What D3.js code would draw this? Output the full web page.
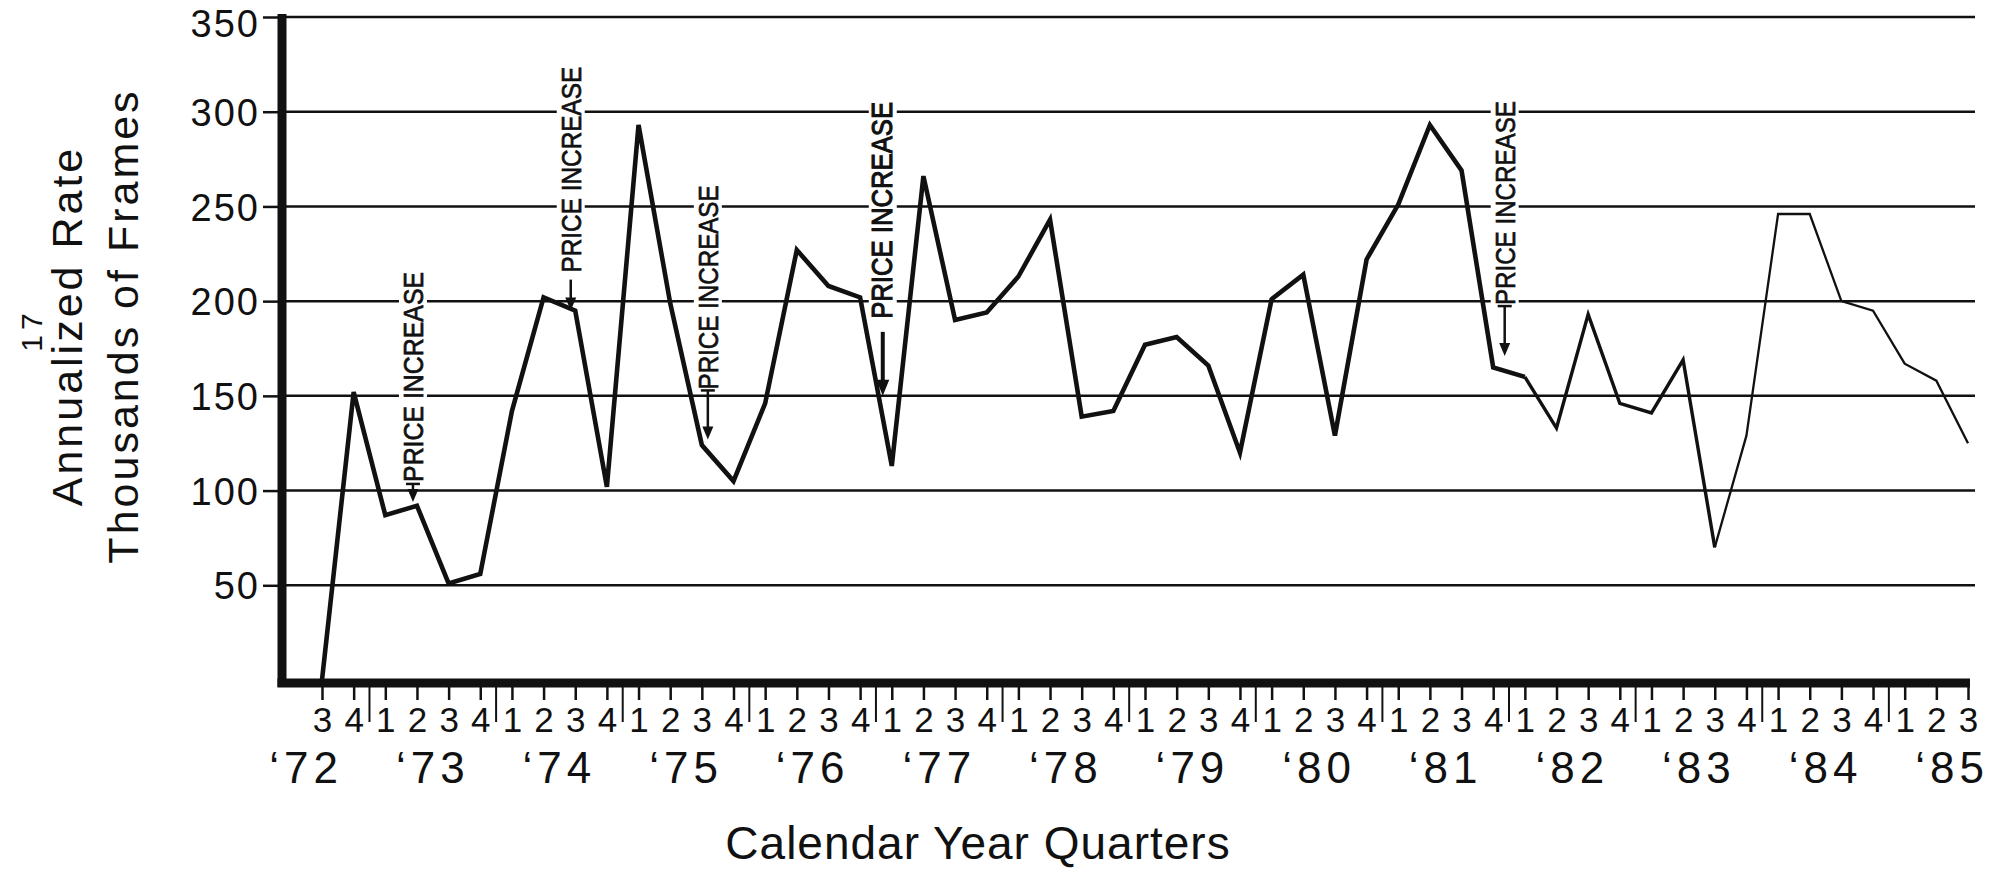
<!DOCTYPE html>
<html>
<head>
<meta charset="utf-8">
<script src="https://cdn.jsdelivr.net/npm/d3@7"></script>
<style>
  body { margin: 0; background: #fff; }
  svg text { font-family: "Liberation Sans", Arial, Helvetica, sans-serif; fill: #111; }
</style>
</head>
<body>
<svg id="chart" width="1996" height="872"></svg>
<script>
'use strict';

// Data
const periods = [
  '72-3', '72-4',
  '73-1', '73-2', '73-3', '73-4',
  '74-1', '74-2', '74-3', '74-4',
  '75-1', '75-2', '75-3', '75-4',
  '76-1', '76-2', '76-3', '76-4',
  '77-1', '77-2', '77-3', '77-4',
  '78-1', '78-2', '78-3', '78-4',
  '79-1', '79-2', '79-3', '79-4',
  '80-1', '80-2', '80-3', '80-4',
  '81-1', '81-2', '81-3', '81-4',
  '82-1', '82-2', '82-3', '82-4',
  '83-1', '83-2', '83-3', '83-4',
  '84-1', '84-2', '84-3', '84-4',
  '85-1', '85-2', '85-3'
];

const frames = [
  0, 152, 87, 92, 51, 56, 142, 202, 195, 102,
  293, 199, 124, 105, 146, 227, 208, 202, 113, 266,
  190, 194, 213, 243, 139, 142, 177, 181, 166, 120,
  201, 214, 129, 222, 251, 293, 269, 165, 160, 133,
  193, 146, 141, 169, 70, 129, 246, 246, 200, 195,
  167, 158, 125
];

const years = ['72', '73', '74', '75', '76', '77', '78', '79', '80', '81', '82', '83', '84', '85'];
const yTicks = [50, 100, 150, 200, 250, 300, 350];

const annotationAt = ['73-2', '74-3', '75-3', '77-1', '81-4'];
const annotationTip = [94, 195, 127, 150, 171];
const annotationText = ['PRICE INCREASE', 'PRICE INCREASE', 'PRICE INCREASE', 'PRICE INCREASE', 'PRICE INCREASE'];

// Layout
const svg = d3.select('#chart');
const axisX = 282;
const axisY = 683;
const gridRight = 1975;

// Scales
const x = d3.scalePoint()
            .domain(periods)
            .range([322, 1968]);
const step = x.step();

const y = d3.scaleLinear()
            .domain([0, 350])
            .range([680, 17]);

// Grid lines
svg.append('g')
   .selectAll('line')
   .data(yTicks)
   .enter().append('line')
           .attr('x1', axisX)
           .attr('x2', gridRight)
           .attr('y1', (d) => y(d))
           .attr('y2', (d) => y(d))
           .attr('stroke', '#111')
           .attr('stroke-width', 2.5);

// Y axis ticks and labels (top label sits a little low, as printed)
const yAxis = svg.append('g')
                 .attr('transform', 'translate(' + (axisX - 3) + ',0)')
                 .call(d3.axisLeft(y).tickValues(yTicks).tickSize(16).tickPadding(3));
yAxis.select('.domain').remove();
yAxis.selectAll('line').attr('stroke', '#111').attr('stroke-width', 2.5);
yAxis.selectAll('text')
     .attr('font-size', 38)
     .attr('letter-spacing', 2)
     .attr('dy', (d) => Math.max(13.7, 36 - y(d)))
     .attr('font-family', '"Liberation Sans", Arial, sans-serif');

// X axis quarter ticks and labels
const xAxis = svg.append('g')
                 .attr('transform', 'translate(0,' + (axisY + 4) + ')')
                 .call(d3.axisBottom(x)
                         .tickSizeInner(13)
                         .tickSizeOuter(0)
                         .tickPadding(7)
                         .tickFormat((d) => d.split('-')[1]));
xAxis.select('.domain').remove();
xAxis.selectAll('line').attr('stroke', '#111').attr('stroke-width', 2.5);
xAxis.selectAll('text')
     .attr('font-size', 35)
     .attr('font-family', '"Liberation Sans", Arial, sans-serif');

// Year separators (between Q4 and Q1)
svg.append('g')
   .selectAll('line')
   .data(years.slice(0, -1))
   .enter().append('line')
           .attr('x1', (d) => x(d + '-4') + step / 2)
           .attr('x2', (d) => x(d + '-4') + step / 2)
           .attr('y1', axisY + 4)
           .attr('y2', axisY + 39)
           .attr('stroke', '#111')
           .attr('stroke-width', 2);

// Year labels, centred on the middle of each year
svg.append('g')
   .selectAll('text')
   .data(years)
   .enter().append('text')
           .attr('x', (d) => x(d + '-3') - step / 2)
           .attr('y', 783)
           .attr('text-anchor', 'middle')
           .attr('font-size', 44)
           .attr('letter-spacing', 5)
           .text((d) => '\u2018' + d);

// Axis lines
svg.append('line')
   .attr('x1', axisX).attr('x2', axisX)
   .attr('y1', y(350) - 3).attr('y2', axisY + 4)
   .attr('stroke', '#111').attr('stroke-width', 9);
svg.append('line')
   .attr('x1', axisX - 4.5).attr('x2', x.range()[1] + 2)
   .attr('y1', axisY).attr('y2', axisY)
   .attr('stroke', '#111').attr('stroke-width', 9);

// Annotations: white knockout, rotated text, arrow
const annotationNudge = [-4, -4.5, 6, -9, 11.5];
const annotationShaft = [18, 31, 49, 64, 50];
const annotationGap = [2, 7, 1, 13, 1];
const annotationLength = [210, 206, 204, 217, 204];
const annotationBar = [true, false, true, false, true];
const annotationMono = [false, false, false, true, false];

const notes = svg.append('g');
annotationAt.forEach((p, i) => {
  const ax = x(p) + annotationNudge[i];
  const tip = y(annotationTip[i]);
  const shaftTop = tip - annotationShaft[i];
  const textBottom = shaftTop - annotationGap[i];
  const len = annotationLength[i];
  const mono = annotationMono[i];

  notes.append('rect')
       .attr('x', ax - 14)
       .attr('y', textBottom - len - 3)
       .attr('width', 28)
       .attr('height', len + 6)
       .attr('fill', '#fff');

  notes.append('text')
       .attr('transform', 'translate(' + (ax + (mono ? 9 : 10)) + ',' + textBottom + ') rotate(-90)')
       .attr('font-size', mono ? 30 : 27)
       .attr('font-family', mono ? '"Liberation Mono", "Courier New", monospace' : '"Liberation Sans", Arial, sans-serif')
       .attr('stroke', '#111')
       .attr('stroke-width', mono ? 1.1 : 0.7)
       .attr('textLength', len)
       .attr('lengthAdjust', 'spacingAndGlyphs')
       .text(annotationText[i]);

  const headLen = mono ? 16 : 13;
  const headW = mono ? 6.5 : 5.5;
  notes.append('line')
       .attr('x1', ax).attr('x2', ax)
       .attr('y1', shaftTop).attr('y2', tip - headLen + 2)
       .attr('stroke', '#111')
       .attr('stroke-width', mono ? 4 : 2.5);
  notes.append('path')
       .attr('d', 'M' + ax + ',' + tip + 'L' + (ax - headW) + ',' + (tip - headLen) + 'L' + (ax + headW) + ',' + (tip - headLen) + 'Z')
       .attr('fill', '#111');
  if (annotationBar[i]) {
    notes.append('line')
         .attr('x1', ax - 7).attr('x2', ax + 7)
         .attr('y1', shaftTop).attr('y2', shaftTop)
         .attr('stroke', '#111')
         .attr('stroke-width', 2.5);
  }
});

// Data line, heavy for the early years, lighter later on
const line = d3.line()
               .x((d) => x(d.period))
               .y((d) => y(d.value));
const points = periods.map((p, i) => ({ period: p, value: frames[i] }));
const pieces = [[0, 38, 4.6], [38, 44, 3.4], [44, 52, 2.3]];
svg.append('g')
   .selectAll('path')
   .data(pieces)
   .enter().append('path')
           .attr('d', (d) => line(points.slice(d[0], d[1] + 1)))
           .attr('fill', 'none')
           .attr('stroke', '#111')
           .attr('stroke-width', (d) => d[2])
           .attr('stroke-linejoin', 'miter');

// Axis titles
svg.append('text')
   .attr('transform', 'translate(82,326) rotate(-90)')
   .attr('text-anchor', 'middle')
   .attr('font-size', 43)
   .attr('letter-spacing', 3)
   .text('Annualized Rate');
svg.append('text')
   .attr('transform', 'translate(138,326) rotate(-90)')
   .attr('text-anchor', 'middle')
   .attr('font-size', 43)
   .attr('letter-spacing', 3)
   .text('Thousands of Frames');
svg.append('text')
   .attr('transform', 'translate(42,330) rotate(-90)')
   .attr('text-anchor', 'middle')
   .attr('font-size', 30)
   .attr('letter-spacing', 5)
   .text('17');
svg.append('text')
   .attr('x', 978)
   .attr('y', 859)
   .attr('text-anchor', 'middle')
   .attr('font-size', 46)
   .attr('letter-spacing', 1)
   .text('Calendar Year Quarters');
</script>
</body>
</html>
